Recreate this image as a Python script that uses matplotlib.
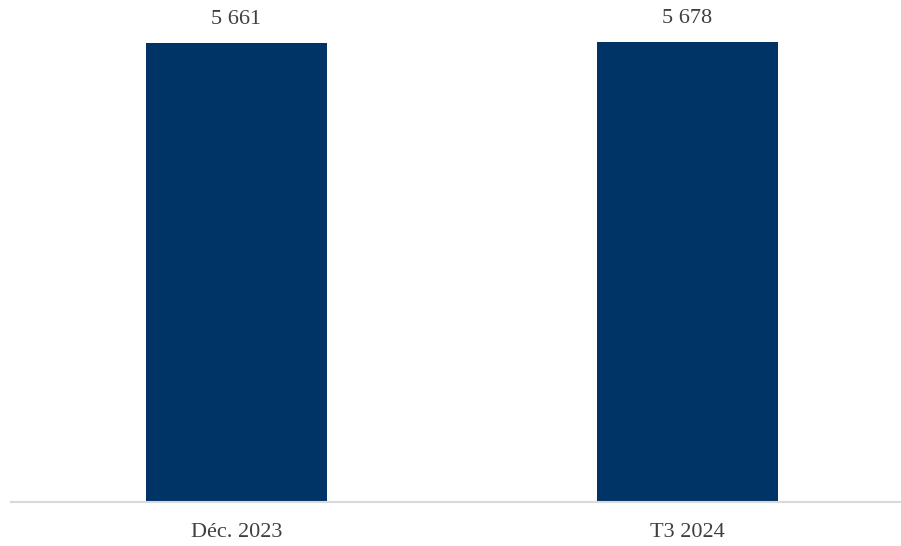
import matplotlib
matplotlib.use("Agg")
from matplotlib import pyplot as plt

categories = ["Déc. 2023", "T3 2024"]
values = [5661, 5678]
value_labels = ["5 661", "5 678"]

bar_color = "#003366"
text_color = "#404040"

plt.rcParams["font.family"] = ["Liberation Serif", "DejaVu Serif"]

fig = plt.figure(figsize=(9.01, 5.46), dpi=100)
# axes spans past the right edge, like the cropped original
ax = fig.add_axes([11 / 901, 44 / 546, 902 / 901, 502 / 546])

x = range(len(categories))
bars = ax.bar(x, values, width=0.4, color=bar_color)

for rect, lab in zip(bars, value_labels):
    ax.annotate(lab, (rect.get_x() + rect.get_width() / 2, rect.get_height()),
                xytext=(0, 10), textcoords="offset points", ha="center",
                va="bottom", fontsize=16, color=text_color)

ax.set_xlim(-0.5, 1.5)
ax.set_ylim(0, 5661 * 502 / 459)
ax.set_xticks(list(x))
ax.set_xticklabels(categories, fontsize=16, color=text_color)
ax.tick_params(axis="x", length=0, pad=15)
ax.set_yticks([])
for side in ["top", "right", "left"]:
    ax.spines[side].set_visible(False)
ax.spines["bottom"].set_color("#d9d9d9")
ax.spines["bottom"].set_linewidth(1.5)

fig.savefig("out.png", dpi=100)
